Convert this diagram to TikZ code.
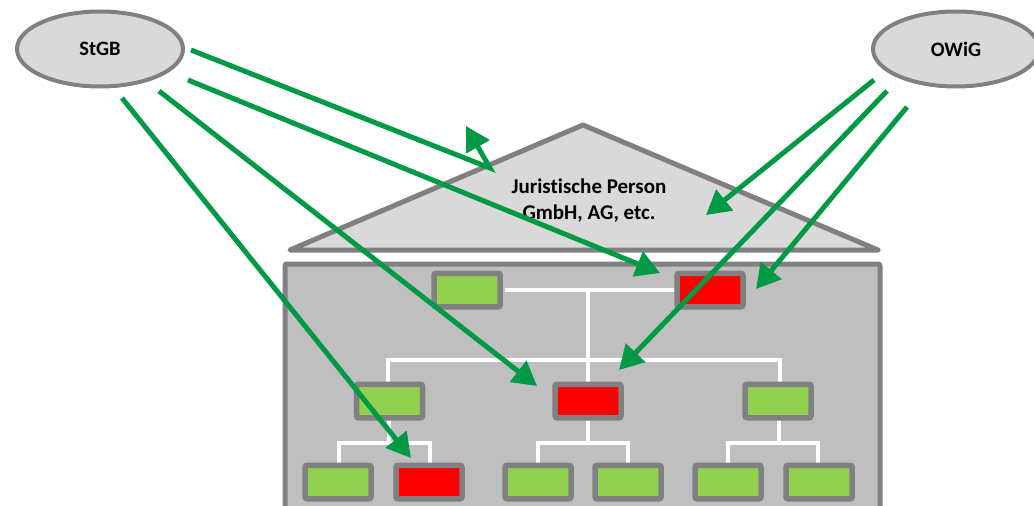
\documentclass[tikz,border=0pt]{standalone}
\usepackage{fontspec}
\setmainfont{Carlito}[Ligatures={NoCommon,TeX}]
\usetikzlibrary{arrows.meta,shapes.geometric}
\definecolor{edgegray}{HTML}{808080}
\definecolor{lightfill}{HTML}{D9D9D9}
\definecolor{bodyfill}{HTML}{BFBFBF}
\definecolor{boxgreen}{HTML}{92D050}
\definecolor{boxred}{HTML}{FF0000}
\definecolor{arrowgreen}{HTML}{009A44}
\tikzset{
  lawnode/.style={ellipse, draw=edgegray, line width=4pt, fill=lightfill, minimum width=166pt, minimum height=75pt, inner sep=0pt, font=\fontsize{20.5}{24}\selectfont\bfseries},
  orgbox/.style={draw=edgegray, line width=5.5pt, rounded corners=2pt, minimum width=66pt, minimum height=33.5pt, inner sep=0pt},
  okbox/.style={orgbox, fill=boxgreen},
  badbox/.style={orgbox, fill=boxred},
  wire/.style={draw=white, line width=4pt},
  liab/.style={draw=arrowgreen, line width=5pt, -{Triangle[length=24pt, width=26pt]}},
}
\begin{document}
\begin{tikzpicture}[x=1pt, y=-1pt]
\useasboundingbox (0,0) rectangle (1034,506);
\clip (0,0) rectangle (1034,506);
% roof
\draw[draw=edgegray, fill=lightfill, line width=5pt, line join=round] (290,250) -- (583,125) -- (878,250) -- cycle;
\node[font=\fontsize{21}{26}\selectfont\bfseries, align=center] (jp) at (589,201) {Juristische Person\\GmbH, AG, etc.};
% body
\draw[draw=edgegray, fill=bodyfill, line width=5pt, rounded corners=2pt] (285,264) rectangle (880,530);
% law ellipses
\node[lawnode] (stgb) at (100,49) {StGB};
\node[lawnode] (owig) at (956,49) {OWiG};
% org chart wires
\draw[wire] (505,290) -- (674,290);
\draw[wire] (588,290) -- (588,383);
\draw[wire] (388,383) -- (388,360) -- (780,360) -- (780,383);
\draw[wire] (389,420) -- (389,443);
\draw[wire] (339,463) -- (339,443) -- (430,443) -- (430,463);
\draw[wire] (588,420) -- (588,443);
\draw[wire] (538,463) -- (538,443) -- (628,443) -- (628,463);
\draw[wire] (779,420) -- (779,443);
\draw[wire] (728,463) -- (728,443) -- (818,443) -- (818,463);
% boxes
\node[okbox] (b1) at (467,290) {};
\node[badbox] (b2) at (710,290) {};
\node[okbox] (m1) at (389.5,401) {};
\node[badbox] (m2) at (588,401) {};
\node[okbox] (m3) at (778,401) {};
\node[okbox] (l1) at (338,482) {};
\node[badbox] (l2) at (429,482) {};
\node[okbox] (l3) at (538,482) {};
\node[okbox] (l4) at (628,482) {};
\node[okbox] (l5) at (728,482) {};
\node[okbox] (l6) at (819,482) {};
% arrow end points
\coordinate (s1) at (191,50);
\coordinate (s2) at (188,80);
\coordinate (s3) at (159,91);
\coordinate (s4) at (122,98);
\coordinate (o1) at (874,80);
\coordinate (o2) at (887,91);
\coordinate (o3) at (907,107);
\coordinate (bounce) at (490,168);
\coordinate (t1) at (466,126);
\coordinate (t2) at (660,273);
\coordinate (t3) at (537,386);
\coordinate (t4) at (411,458);
\coordinate (t5) at (706,215);
\coordinate (t6) at (619,370);
\coordinate (t7) at (756,289);
% arrows
\draw[liab] (s1) -- (bounce) -- (t1);
\draw[liab] (s2) -- (t2);
\draw[liab] (s3) -- (t3);
\draw[liab] (s4) -- (t4);
\draw[liab] (o1) -- (t5);
\draw[liab] (o2) -- (t6);
\draw[liab] (o3) -- (t7);
\end{tikzpicture}
\end{document}
